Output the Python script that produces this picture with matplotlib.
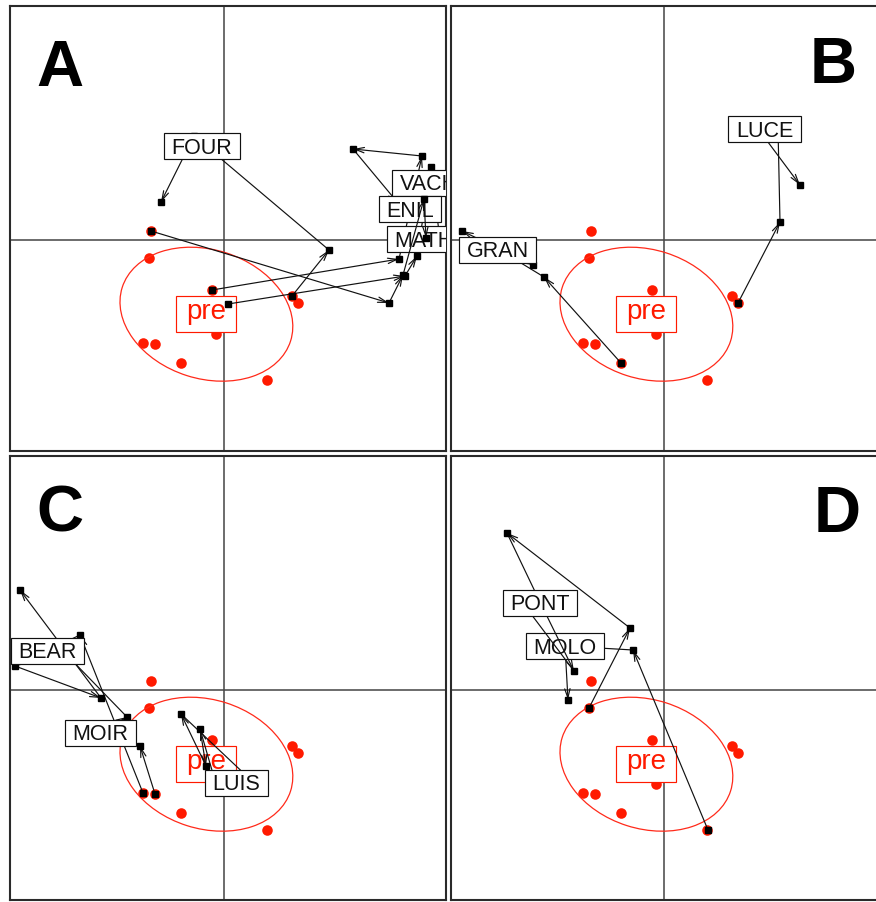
import numpy as np
import matplotlib
matplotlib.use("Agg")
import matplotlib.pyplot as plt
from matplotlib.patches import Ellipse, Rectangle

plt.rcParams['font.family'] = ['Liberation Sans', 'DejaVu Sans']

# points "pre" (identiques dans les 4 panneaux)
pre_x = [-0.73, -0.75, -0.12, 0.68, 0.74, -0.08, -0.81, -0.69, -0.43, 0.43]
pre_y = [0.09, -0.18, -0.50, -0.56, -0.63, -0.94, -1.03, -1.04, -1.23, -1.40]

# panneau A
four_x = [0.68, 1.05, -0.30, -0.63]
four_y = [-0.56, -0.10, 1.04, 0.38]
vach_x = [-0.12, 1.75, 1.98, 1.29, 1.74]
vach_y = [-0.50, -0.19, 0.84, 0.91, 0.37]
math_x = [0.04, 1.81, 1.93, 2.07, 2.16]
math_y = [-0.64, -0.36, -0.16, 0.73, 0.00]
enil_x = [-0.73, 1.65, 1.79, 2.00, 2.02]
enil_y = [0.09, -0.63, -0.35, 0.41, 0.02]

# panneau B
gran_x = [-0.43, -1.20, -1.66, -1.31, -2.02]
gran_y = [-1.23, -0.37, -0.09, -0.25, 0.09]
luce_x = [0.74, 1.16, 1.14, 0.92, 1.36]
luce_y = [-0.63, 0.18, 1.12, 1.14, 0.55]

# panneau C
bear_x = [-0.81, -1.44, -2.09, -1.23, -2.04]
bear_y = [-1.03, 0.55, 0.24, -0.08, 1.00]
moir_x = [-0.69, -0.84, -1.24, -0.97, -1.64]
moir_y = [-1.04, -0.56, -0.42, -0.27, 0.42]
luis_x = [-0.08, -0.24, -0.18, -0.43, 0.28]
luis_y = [-0.94, -0.39, -0.76, -0.24, -0.91]

# panneau D
molo_x = [0.44, -0.31, -0.99, -0.96]
molo_y = [-1.40, 0.40, 0.44, -0.10]
pont_x = [-0.75, -0.34, -1.57, -1.24, -0.90, -1.42]
pont_y = [-0.18, 0.62, 1.57, 0.88, 0.19, 0.88]

# position des étiquettes
lab_A = {"FOUR": (-0.22, 0.94), "VACH": (2.045, 0.575), "ENIL": (1.86, 0.31), "MATH": (2.00, 0.01)}
lab_B = {"LUCE": (1.005, 1.11), "GRAN": (-1.665, -0.095)}
lab_C = {"BEAR": (-1.765, 0.395), "MOIR": (-1.235, -0.425), "LUIS": (0.125, -0.925)}
lab_D = {"PONT": (-1.24, 0.875), "MOLO": (-0.99, 0.44)}

# (nom, x, y, zorder des traits)
panels = [
    ("A", [("FOUR", four_x, four_y, 3), ("VACH", vach_x, vach_y, 3),
           ("MATH", math_x, math_y, 3), ("ENIL", enil_x, enil_y, 7)], lab_A),
    ("B", [("GRAN", gran_x, gran_y, 3), ("LUCE", luce_x, luce_y, 3)], lab_B),
    ("C", [("BEAR", bear_x, bear_y, 3), ("MOIR", moir_x, moir_y, 3),
           ("LUIS", luis_x, luis_y, 3)], lab_C),
    ("D", [("MOLO", molo_x, molo_y, 3), ("PONT", pont_x, pont_y, 6)], lab_D),
]
label_z = {"PONT": 6.5}

W, H = 876, 902
fig = plt.figure(figsize=(W / 100, H / 100), dpi=100)
fig.patch.set_facecolor("white")

# cadres en pixels : gauche, haut, bas
frames = {"A": (10, 6, 451), "B": (451, 6, 451), "C": (10, 456, 900), "D": (451, 456, 900)}
origins = {"A": (224, 240), "B": (664, 240), "C": (224, 690), "D": (664, 690)}
letter_pos = {"A": (0.0596, 0.820, "left"), "B": (0.931, 0.827, "right"),
              "C": (0.0596, 0.831, "left"), "D": (0.940, 0.829, "right")}

pending = []


def boxed(ax, x, y, s, color, size, padx, boxh, base_off, z):
    t = ax.text(x, y + base_off, s, ha="center", va="baseline", fontsize=size,
                color=color, zorder=z + 0.1, clip_on=True)
    pending.append((ax, t, x, y, color, padx, boxh, z))


for letter, trajs, labs in panels:
    left, top, bottom = frames[letter]
    ox, oy = origins[letter]
    ax = fig.add_axes([left / W, (H - bottom) / H, 436 / W, (bottom - top) / H])
    ax.set_xlim((left - ox) / 100, (left + 436 - ox) / 100)
    ax.set_ylim((oy - bottom) / 100, (oy - top) / 100)
    ax.set_xticks([])
    ax.set_yticks([])
    for sp in ax.spines.values():
        sp.set_color("#2a2a2a")
        sp.set_linewidth(1.5)
    ax.axhline(0, color="#444444", lw=1.1, zorder=1)
    ax.axvline(0, color="#444444", lw=1.1, zorder=1)

    # points pre + ellipse (1.5 écart-type)
    px = np.array(pre_x)
    py = np.array(pre_y)
    ax.plot(px, py, "o", color="#ff1a00", ms=7.6, mec="none", zorder=2)
    mx, my = px.mean(), py.mean()
    cov = np.cov(np.vstack([px, py]), bias=True)
    vals, vecs = np.linalg.eigh(cov)
    ang = np.degrees(np.arctan2(vecs[1, 1], vecs[0, 1]))
    ax.add_patch(Ellipse((mx, my), 2 * 1.5 * np.sqrt(vals[1]), 2 * 1.5 * np.sqrt(vals[0]),
                         angle=ang, fill=False, ec="#ff2a1a", lw=0.9, zorder=2))
    boxed(ax, mx, my, "pre", "#ff1a00", 20, 10, 36, -0.045, 2.3)

    for name, xs, ys, z in trajs:
        for i in range(len(xs) - 1):
            ax.annotate("", xy=(xs[i + 1], ys[i + 1]), xytext=(xs[i], ys[i]),
                        arrowprops=dict(arrowstyle="->,head_length=0.55,head_width=0.16",
                                        mutation_scale=12, lw=0.85, color="#111111",
                                        shrinkA=0, shrinkB=0),
                        zorder=z)
        ax.plot(xs, ys, "s", color="black", ms=4.2, ls="none", zorder=z + 0.05)
        lx, ly = labs[name]
        boxed(ax, lx, ly, name, "#111111", 15.5, 7.5, 26, -0.077, label_z.get(name, 5))

    fx, fy, ha = letter_pos[letter]
    ax.text(fx, fy, letter, transform=ax.transAxes, ha=ha, va="baseline",
            fontsize=47, fontweight="bold", color="black", zorder=10)

renderer = fig.canvas.get_renderer()
for ax, t, x, y, color, padx, boxh, z in pending:
    bb = t.get_window_extent(renderer)
    w = (bb.width + 2 * padx) / 100
    h = boxh / 100
    ax.add_patch(Rectangle((x - w / 2, y - h / 2), w, h, fc="white", ec=color,
                           lw=0.85, zorder=z))

fig.savefig("out.png", dpi=100)
